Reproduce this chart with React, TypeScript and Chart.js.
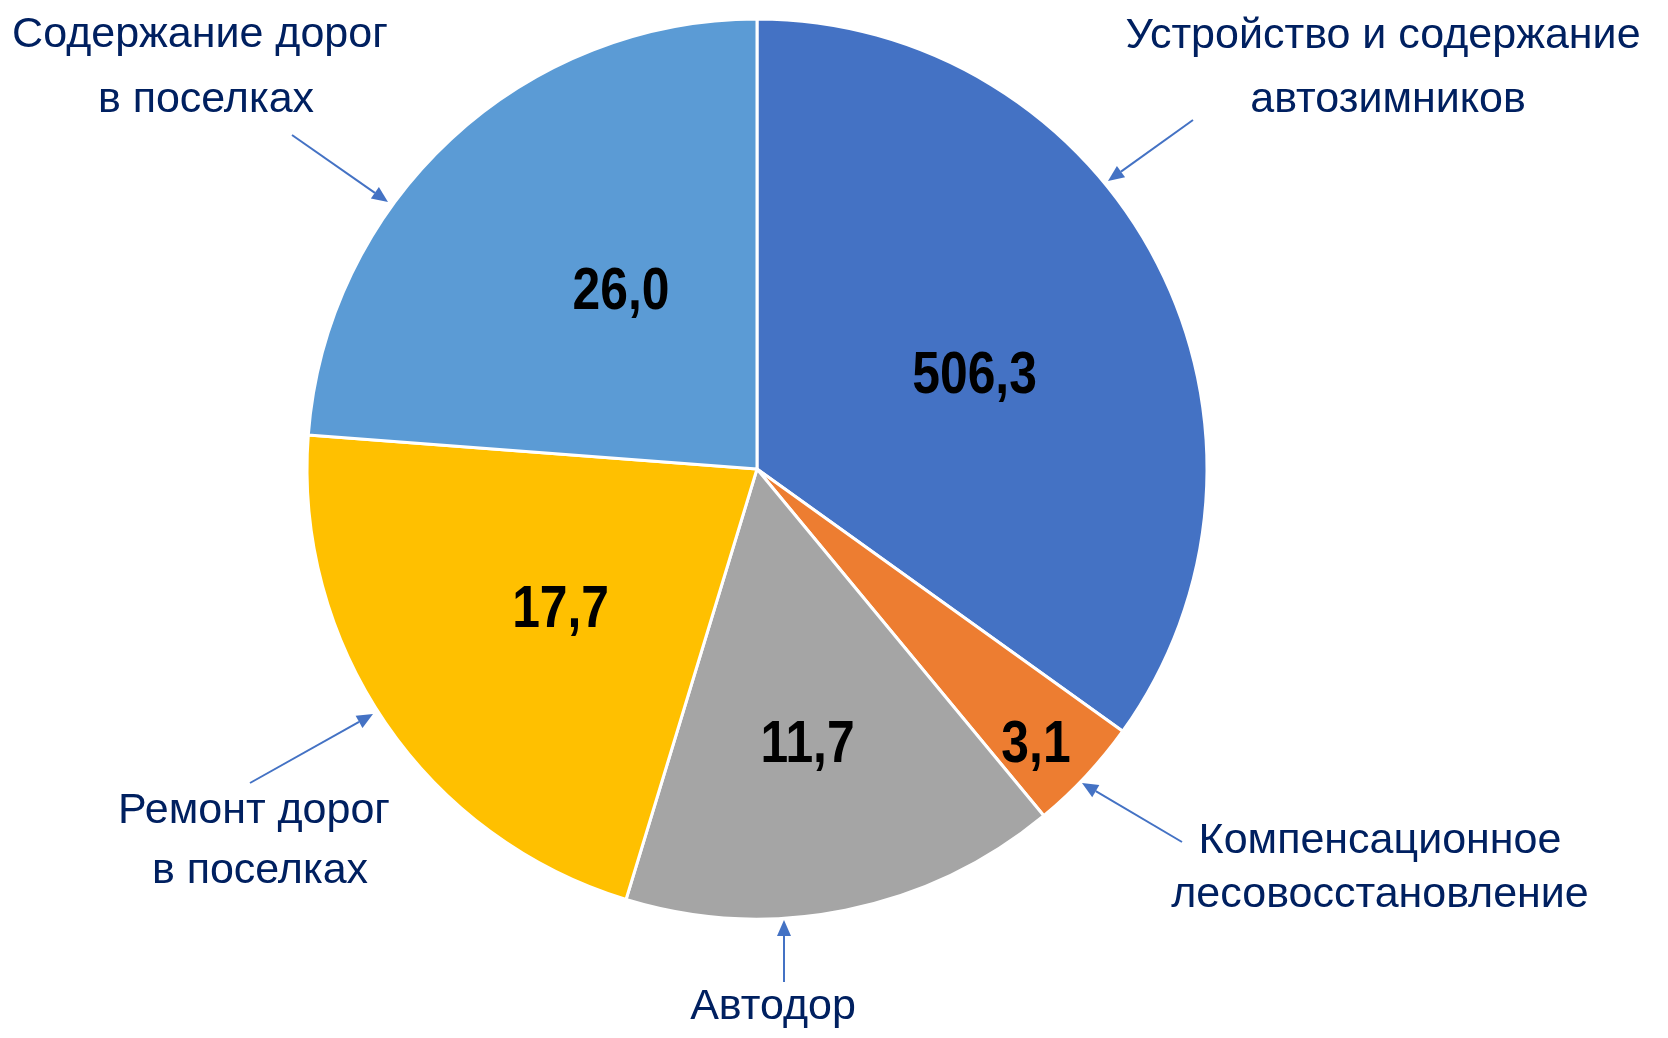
import React, { useEffect, useRef } from "react";
import { Chart, registerables } from "chart.js";

Chart.register(...registerables);

// ---- data ----
const categories = [
  "Устройство и содержание автозимников",
  "Компенсационное лесовосстановление",
  "Автодор",
  "Ремонт дорог в поселках",
  "Содержание дорог в поселках",
];
// values printed on the slices
const valueLabels = ["506,3", "3,1", "11,7", "17,7", "26,0"];
// slice shares as drawn in the picture (percent of the circle)
const sliceShares = [34.9, 4.1, 15.7, 21.5, 23.8];
const sliceColors = ["#4472C4", "#ED7D31", "#A5A5A5", "#FFC000", "#5B9BD5"];

// ---- layout / styling (not data) ----
const labelRadius = [0.53, 0.865, 0.614, 0.532, 0.504];
const labelAngleShiftDeg = [3, 1.2, 0.8, -0.5, 6];
const TEXT_COLOR = "#002060";
const ARROW_COLOR = "#4472C4";
const CALLOUT_FONT = '43px "Liberation Sans", Arial, sans-serif';
const VALUE_SIZE = 60;
const VALUE_FONT = `bold ${VALUE_SIZE}px "Liberation Sans", Arial, sans-serif`;
const VALUE_SCALE_X = 0.83;

type Callout = {
  lines: { text: string; x: number; y: number }[];
  from: [number, number];
  to: [number, number];
};

const callouts: Callout[] = [
  {
    lines: [
      { text: "Устройство и содержание", x: 1383, y: 48 },
      { text: "автозимников", x: 1388, y: 112 },
    ],
    from: [1193, 120],
    to: [1108, 181],
  },
  {
    lines: [
      { text: "Компенсационное", x: 1380, y: 853 },
      { text: "лесовосстановление", x: 1380, y: 907 },
    ],
    from: [1182, 842],
    to: [1082, 783],
  },
  {
    lines: [{ text: "Автодор", x: 773, y: 1019 }],
    from: [784, 982],
    to: [784, 920],
  },
  {
    lines: [
      { text: "Ремонт дорог", x: 254, y: 823 },
      { text: "в поселках", x: 260, y: 883 },
    ],
    from: [250, 783],
    to: [373, 714],
  },
  {
    lines: [
      { text: "Содержание дорог", x: 200, y: 47 },
      { text: "в поселках", x: 206, y: 112 },
    ],
    from: [292, 135],
    to: [388, 202],
  },
];

function drawArrow(ctx: CanvasRenderingContext2D, from: [number, number], to: [number, number]) {
  const [x1, y1] = from;
  const [x2, y2] = to;
  const ang = Math.atan2(y2 - y1, x2 - x1);
  const headLen = 16;
  const headHalf = 7;
  const bx = x2 - Math.cos(ang) * headLen;
  const by = y2 - Math.sin(ang) * headLen;
  ctx.save();
  ctx.strokeStyle = ARROW_COLOR;
  ctx.fillStyle = ARROW_COLOR;
  ctx.lineWidth = 2;
  ctx.beginPath();
  ctx.moveTo(x1, y1);
  ctx.lineTo(bx, by);
  ctx.stroke();
  ctx.beginPath();
  ctx.moveTo(x2, y2);
  ctx.lineTo(bx + Math.cos(ang + Math.PI / 2) * headHalf, by + Math.sin(ang + Math.PI / 2) * headHalf);
  ctx.lineTo(bx + Math.cos(ang - Math.PI / 2) * headHalf, by + Math.sin(ang - Math.PI / 2) * headHalf);
  ctx.closePath();
  ctx.fill();
  ctx.restore();
}

const labelPlugin = {
  id: "labelPlugin",
  afterDraw(chart: any) {
    const ctx: CanvasRenderingContext2D = chart.ctx;
    const meta = chart.getDatasetMeta(0);
    meta.data.forEach((arc: any, i: number) => {
      const p = arc.getProps(["x", "y", "startAngle", "endAngle", "outerRadius"], true);
      const mid = (p.startAngle + p.endAngle) / 2 + (labelAngleShiftDeg[i] * Math.PI) / 180;
      const r = p.outerRadius * labelRadius[i];
      const cx = p.x + Math.cos(mid) * r;
      const cy = p.y + Math.sin(mid) * r;
      ctx.save();
      ctx.font = VALUE_FONT;
      ctx.fillStyle = "#000000";
      ctx.textAlign = "center";
      ctx.textBaseline = "alphabetic";
      ctx.translate(cx, cy + VALUE_SIZE * 0.358);
      ctx.scale(VALUE_SCALE_X, 1);
      ctx.fillText(valueLabels[i], 0, 0);
      ctx.restore();
    });
    ctx.save();
    ctx.font = CALLOUT_FONT;
    ctx.fillStyle = TEXT_COLOR;
    ctx.textAlign = "center";
    ctx.textBaseline = "alphabetic";
    callouts.forEach((c) => {
      c.lines.forEach((l) => ctx.fillText(l.text, l.x, l.y));
      drawArrow(ctx, c.from, c.to);
    });
    ctx.restore();
  },
};

export default function App() {
  const canvasRef = useRef<HTMLCanvasElement | null>(null);

  useEffect(() => {
    document.body.style.margin = "0";
    const canvas = canvasRef.current;
    if (!canvas) return;
    const chart = new Chart(canvas, {
      type: "pie",
      data: {
        labels: categories,
        datasets: [
          {
            data: sliceShares,
            backgroundColor: sliceColors,
            borderColor: "#FFFFFF",
            borderWidth: 3,
            hoverOffset: 0,
            offset: 0,
          },
        ],
      },
      options: {
        responsive: false,
        animation: false,
        events: [],
        layout: { padding: { left: 305.5, right: 459.5, top: 17.5, bottom: 117.5 } },
        plugins: {
          legend: { display: false },
          tooltip: { enabled: false },
        },
      },
      plugins: [labelPlugin],
    });
    return () => chart.destroy();
  }, []);

  return (
    <div style={{ width: 1668, height: 1038, background: "#FFFFFF" }}>
      <canvas ref={canvasRef} width={1668} height={1038} style={{ display: "block" }} />
    </div>
  );
}
